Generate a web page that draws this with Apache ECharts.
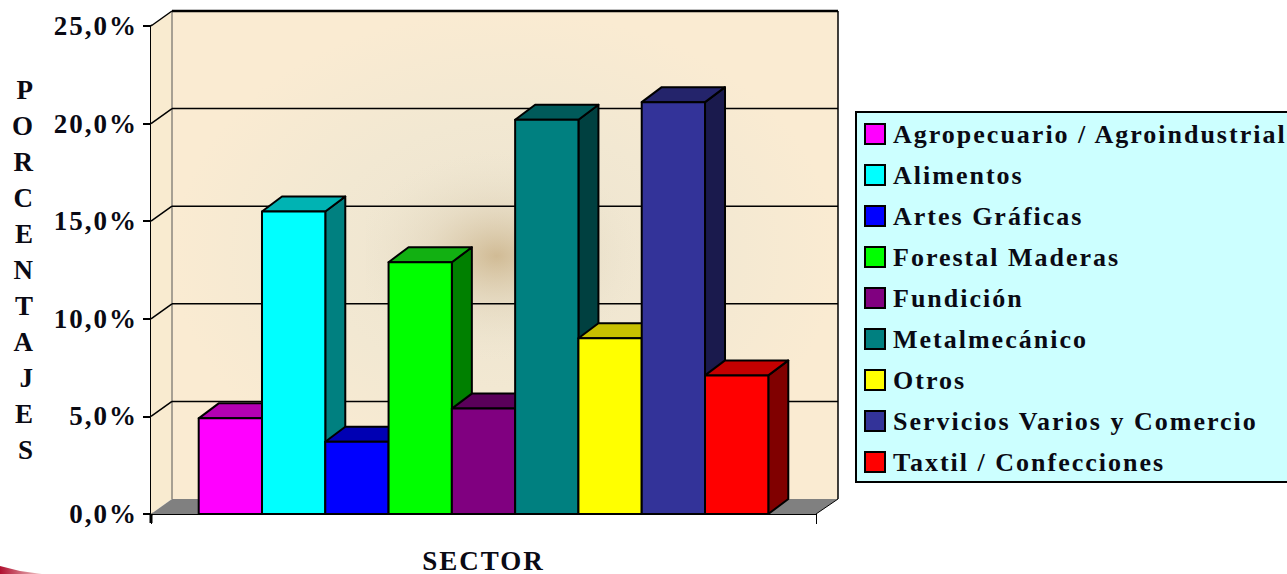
<!DOCTYPE html>
<html>
<head>
<meta charset="utf-8">
<style>
  html, body { margin: 0; padding: 0; background: #fff; }
  #main { width: 1287px; height: 574px; }
  #main text { letter-spacing: 2px; }
  #main text.x { letter-spacing: 2px; }
</style>
<script src="https://cdn.jsdelivr.net/npm/echarts@6/dist/echarts.min.js"></script>
</head>
<body>
<div id="main"></div>
<script>
// datos
var sectores = ['Agropecuario / Agroindustrial', 'Alimentos', 'Artes Gráficas', 'Forestal Maderas', 'Fundición', 'Metalmecánico', 'Otros', 'Servicios Varios y Comercio', 'Taxtil / Confecciones'];
var porcentajes = [4.9, 15.5, 3.7, 12.9, 5.4, 20.2, 9.0, 21.1, 7.1];
var marcasY = [0, 5, 10, 15, 20, 25];

var frente = ['#ff00ff', '#00ffff', '#0000ff', '#00ff00', '#800080', '#008080', '#ffff00', '#333399', '#ff0000'];
var arriba = ['#b300b3', '#00b3b3', '#0000b3', '#12b012', '#5a005a', '#005a5a', '#c8c000', '#24246b', '#c40000'];
var lado = ['#800080', '#008080', '#000080', '#008000', '#400040', '#004040', '#808000', '#1a1a4d', '#800000'];

var FUENTE = '"Liberation Serif", serif';
var PROF_X = 20, PROF_Y = 15;      // profundidad de las barras
var FONDO_X = 21, FONDO_Y = 15;    // profundidad de las paredes
var RELLENO = 47.7;                // espacio entre el eje y la primera barra

// svg para que el letter-spacing del css llegue a los textos
var myChart = echarts.init(document.getElementById('main'), null, { renderer: 'svg' });

function pintarParedes(params, api) {
    var ancho = api.size([1, 0])[0];
    var base = api.coord([0, 0]);
    var x0 = base[0] - ancho / 2, x1 = x0 + ancho, y0 = base[1];
    var yTop = api.coord([0, marcasY[marcasY.length - 1]])[1];
    var linea = function (a, b, c, d, w, color) {
        return { type: 'line', shape: { x1: a, y1: b, x2: c, y2: d }, style: { stroke: color || '#000', lineWidth: w } };
    };
    var hijos = [
        // pared lateral y pared del fondo
        { type: 'polygon', shape: { points: [[x0, y0], [x0 + FONDO_X, y0 - FONDO_Y], [x0 + FONDO_X, yTop - FONDO_Y], [x0, yTop]] }, style: { fill: '#f9ebd0' } },
        { type: 'rect', shape: { x: x0 + FONDO_X, y: yTop - FONDO_Y, width: ancho + 1, height: y0 - yTop }, style: {
            fill: new echarts.graphic.RadialGradient(0.5, 0.5, 0.5, [
                { offset: 0, color: '#ece3cf' },
                { offset: 0.55, color: '#f2e8d2' },
                { offset: 1, color: '#faebd2' }
            ]) } },
        { type: 'rect', shape: { x: x0 + 215, y: yTop + 125, width: 290, height: 210 }, style: {
            fill: new echarts.graphic.RadialGradient(0.45, 0.5, 0.5, [
                { offset: 0, color: 'rgba(190,160,110,0.6)' },
                { offset: 0.5, color: 'rgba(215,200,170,0.3)' },
                { offset: 1, color: 'rgba(230,225,205,0)' }
            ]) } },
        // piso
        { type: 'polygon', shape: { points: [[x0, y0], [x0 + FONDO_X, y0 - FONDO_Y], [x1 + FONDO_X + 1, y0 - FONDO_Y], [x1, y0]] }, style: { fill: '#808080' } },
        linea(x0 + FONDO_X, yTop - FONDO_Y, x0 + FONDO_X, y0 - FONDO_Y, 1, '#555'),
        linea(x1 + FONDO_X + 1, yTop - FONDO_Y, x1 + FONDO_X + 1, y0 - FONDO_Y, 1.5),
        linea(x1, y0, x1 + FONDO_X + 1, y0 - FONDO_Y, 1),
        linea(x0, y0, x0, y0 + 9, 3)
    ];
    marcasY.forEach(function (m) {
        if (m === 0) return;
        var y = api.coord([0, m])[1];
        hijos.push(linea(x0, y, x0 + FONDO_X, y - FONDO_Y, 1.5));
        hijos.push(linea(x0 + FONDO_X, y - FONDO_Y, x1 + FONDO_X + 1, y - FONDO_Y, m === 25 ? 2.5 : 1.5));
    });
    return { type: 'group', children: hijos };
}

function pintarBarra(i) {
    return function (params, api) {
        var bandaAncho = api.size([1, 0])[0];
        var anchoBarra = (bandaAncho - 2 * RELLENO) / sectores.length;
        var centro = api.coord([api.value(0), api.value(1)]);
        var cero = api.coord([api.value(0), 0]);
        var x = centro[0] - bandaAncho / 2 + RELLENO + i * anchoBarra;
        var xd = x + anchoBarra;
        var yt = centro[1], yb = cero[1];
        var borde = { stroke: '#000', lineWidth: 2, lineJoin: 'round' };
        return {
            type: 'group',
            children: [
                { type: 'polygon', shape: { points: [[xd, yb], [xd + PROF_X, yb - PROF_Y], [xd + PROF_X, yt - PROF_Y], [xd, yt]] }, style: Object.assign({ fill: lado[i] }, borde) },
                { type: 'polygon', shape: { points: [[x, yt], [x + PROF_X, yt - PROF_Y], [xd + PROF_X, yt - PROF_Y], [xd, yt]] }, style: Object.assign({ fill: arriba[i] }, borde) },
                { type: 'rect', shape: { x: x, y: yt, width: anchoBarra, height: yb - yt }, style: Object.assign({ fill: frente[i] }, borde) }
            ]
        };
    };
}

var series = [{
    type: 'custom',
    name: 'paredes',
    z: 1,
    silent: true,
    renderItem: pintarParedes,
    encode: { x: 0, y: 1 },
    data: [[0, 0]]
}];
sectores.forEach(function (nombre, i) {
    series.push({
        type: 'custom',
        name: nombre,
        z: 2,
        itemStyle: { color: frente[i] },
        renderItem: pintarBarra(i),
        encode: { x: 0, y: 1 },
        data: [[0, porcentajes[i]]]
    });
});

var option = {
    animation: false,
    backgroundColor: '#fff',
    grid: { left: 151, top: 26, width: 665, height: 490 },
    xAxis: {
        type: 'category',
        data: ['SECTOR'],
        axisLine: { lineStyle: { color: '#000', width: 1 } },
        axisTick: { show: true, length: 10, lineStyle: { color: '#000', width: 1 } },
        axisLabel: { color: '#0a0a14', fontFamily: FUENTE, fontWeight: 'bold', fontSize: 27, margin: 33 }
    },
    yAxis: {
        type: 'value',
        min: 0,
        max: 25,
        interval: 5,
        name: 'PORCENTAJES'.split('').join('\n'),
        nameLocation: 'middle',
        nameRotate: 0,
        nameGap: 116,
        nameTextStyle: { color: '#0a0a14', fontFamily: FUENTE, fontWeight: 'bold', fontSize: 27, lineHeight: 36 },
        axisLine: { show: true, lineStyle: { color: '#000', width: 3 } },
        axisTick: { show: true, length: 8, lineStyle: { color: '#000', width: 2 } },
        splitLine: { show: false },
        axisLabel: {
            color: '#0a0a14', fontFamily: FUENTE, fontWeight: 'bold', fontSize: 27, margin: 13,
            formatter: function (v) { return v.toFixed(1).replace('.', ',') + '%'; }
        }
    },
    legend: {
        orient: 'vertical',
        left: 856,
        top: 112,
        data: sectores,
        icon: 'rect',
        itemWidth: 20,
        itemHeight: 20,
        itemGap: 11,
        padding: [7, 60, 5, 8],
        backgroundColor: '#ccffff',
        borderColor: '#000',
        borderWidth: 2,
        selectedMode: false,
        itemStyle: { borderColor: '#000', borderWidth: 2 },
        textStyle: { color: '#0a0a14', fontFamily: FUENTE, fontWeight: 'bold', fontSize: 26, lineHeight: 30, padding: [0, 0, 0, 3] }
    },
    graphic: [{
        type: 'polygon',
        silent: true,
        shape: { points: [[0, 566], [20, 571], [42, 574], [0, 574]] },
        style: {
            fill: new echarts.graphic.LinearGradient(0, 0, 1, 0, [
                { offset: 0, color: '#b01030' },
                { offset: 1, color: '#f0c8c8' }
            ])
        }
    }],
    series: series
};

myChart.setOption(option);
</script>
</body>
</html>
